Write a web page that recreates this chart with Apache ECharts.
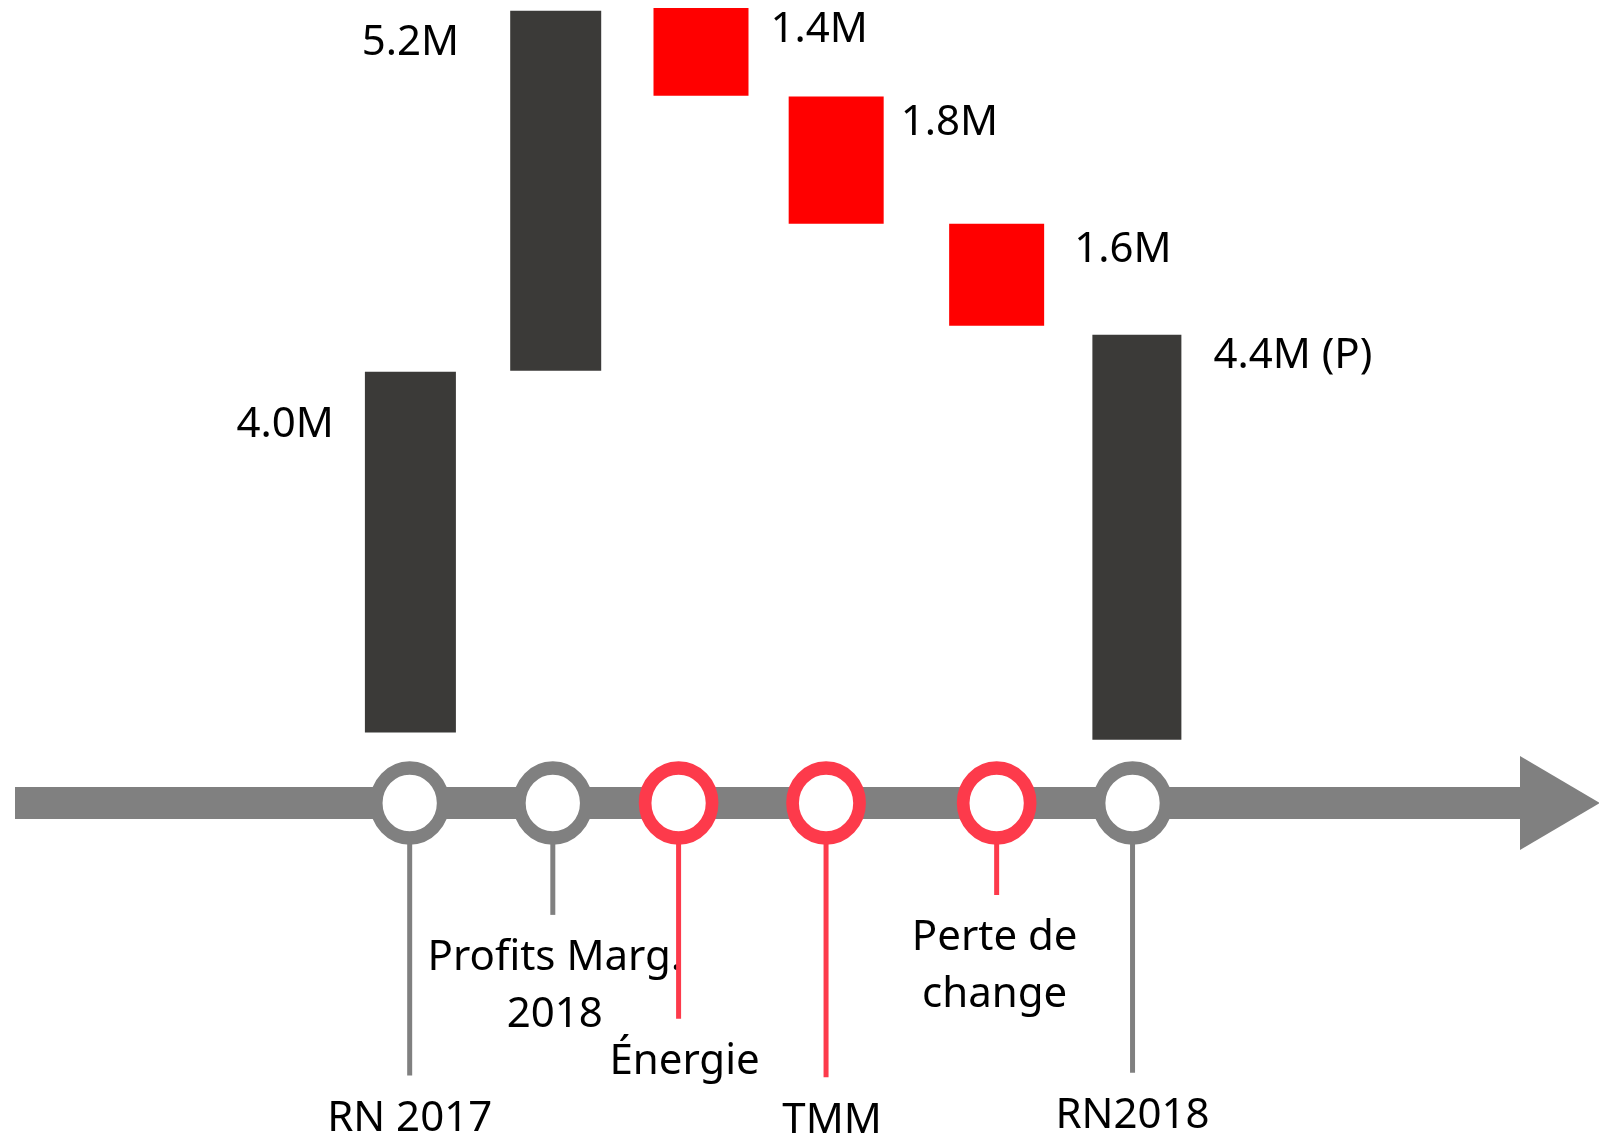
<!DOCTYPE html>
<html lang="fr">
<head>
<meta charset="UTF-8">
<title>RN 2017 - RN 2018</title>
<script src="https://cdn.jsdelivr.net/npm/echarts@6/dist/echarts.min.js"></script>
<style>
  html, body { margin: 0; padding: 0; background: #fff; }
  #main { width: 1599px; height: 1135px; }
</style>
</head>
<body>
<div id="main"></div>
<script>
  // étapes de la passerelle RN 2017 -> RN 2018
  var steps = ['RN 2017', 'Profits Marg.\n2018', 'Énergie', 'TMM', 'Perte de\nchange', 'RN2018'];
  var valueLabels = ['4.0M', '5.2M', '1.4M', '1.8M', '1.6M', '4.4M (P)'];
  var kind = ['total', 'up', 'down', 'down', 'down', 'total'];
  // barres (en M)
  var barPos = [1.005, 2.01, 3.015, 3.95, 5.06, 6.03];
  var barLow = [0, 4.01, 7.06, 5.64, 4.51, -0.08];
  var barHigh = [4.0, 8.0, 8.03, 7.05, 5.64, 4.41];
  // jalons sur la flèche
  var stepPos = [1.0, 1.99, 2.86, 3.88, 5.06, 6.0];
  var stemEnd = [-3.80, -2.02, -3.17, -3.82, -1.80, -3.77];
  var lineY = -0.78;

  var GRAY = '#808080';
  var DARK = '#3b3a38';
  var RED = '#ff0000';
  var RING = '#fd3a4b';
  var FONT = 'Noto Sans';

  // largeur des barres et place des étiquettes
  var barW = [91, 91, 95, 95, 95, 89];
  var nudge = [
    { side: 'left', gap: 31, dy: 53 },
    { side: 'left', gap: 51, dy: 32 },
    { side: 'right', gap: 22, dy: 22 },
    { side: 'right', gap: 17, dy: 26 },
    { side: 'right', gap: 30, dy: 26 },
    { side: 'right', gap: 32, dy: 21 }
  ];
  var stepDx = [0, 2, 6, 6, -2, 0];

  var myChart = echarts.init(document.getElementById('main'));

  var option = {
    animation: false,
    backgroundColor: '#fff',
    grid: { left: 15, right: 79, top: 0, bottom: 332 },
    xAxis: {
      type: 'value',
      min: -1.73,
      max: 8.68,
      axisLine: {
        show: true,
        onZero: false,
        symbol: ['none', 'triangle'],
        symbolSize: [94, 80],
        symbolOffset: [0, 40],
        lineStyle: { color: GRAY, width: 32, cap: 'butt' }
      },
      axisTick: { show: false },
      axisLabel: { show: false },
      splitLine: { show: false }
    },
    yAxis: { type: 'value', min: -0.78, max: 8.12, show: false },
    series: [
      {
        // tiges + libellés des étapes
        type: 'custom',
        silent: true,
        z: 1,
        data: stepPos.map(function (x, i) { return [x, stemEnd[i]]; }),
        renderItem: function (params, api) {
          var i = params.dataIndex;
          var top = api.coord([api.value(0), lineY]);
          var bot = api.coord([api.value(0), api.value(1)]);
          var col = kind[i] === 'down' ? RING : GRAY;
          return {
            type: 'group',
            children: [
              {
                type: 'line',
                shape: { x1: top[0], y1: top[1], x2: bot[0], y2: bot[1] },
                style: { stroke: col, lineWidth: 5 }
              },
              {
                type: 'text',
                style: {
                  text: steps[i],
                  x: bot[0] + stepDx[i],
                  y: bot[1] + 15,
                  align: 'center',
                  verticalAlign: 'top',
                  fontSize: 42,
                  fontFamily: FONT,
                  lineHeight: 57,
                  fill: '#000'
                }
              }
            ]
          };
        }
      },
      {
        type: 'scatter',
        silent: true,
        clip: false,
        z: 3,
        symbol: 'circle',
        symbolSize: [67, 70],
        itemStyle: { color: '#fff', borderWidth: 13, opacity: 1 },
        data: stepPos.map(function (x, i) {
          return { value: [x, lineY], itemStyle: { borderColor: kind[i] === 'down' ? RING : GRAY } };
        })
      },
      {
        // cascade
        type: 'custom',
        silent: true,
        z: 2,
        encode: { x: 0, y: [1, 2] },
        data: barPos.map(function (x, i) { return [x, barLow[i], barHigh[i]]; }),
        renderItem: function (params, api) {
          var i = params.dataIndex;
          var x = api.value(0);
          var pTop = api.coord([x, api.value(2)]);
          var pBot = api.coord([x, api.value(1)]);
          var w = barW[i];
          var n = nudge[i];
          return {
            type: 'group',
            children: [
              {
                type: 'rect',
                shape: { x: pTop[0] - w / 2, y: pTop[1], width: w, height: pBot[1] - pTop[1] },
                style: { fill: kind[i] === 'down' ? RED : DARK }
              },
              {
                type: 'text',
                style: {
                  text: valueLabels[i],
                  x: n.side === 'left' ? pTop[0] - w / 2 - n.gap : pTop[0] + w / 2 + n.gap,
                  y: pTop[1] + n.dy,
                  align: n.side === 'left' ? 'right' : 'left',
                  verticalAlign: 'middle',
                  fontSize: 42,
                  fontFamily: FONT,
                  fill: '#000'
                }
              }
            ]
          };
        }
      }
    ]
  };

  myChart.setOption(option);
</script>
</body>
</html>
